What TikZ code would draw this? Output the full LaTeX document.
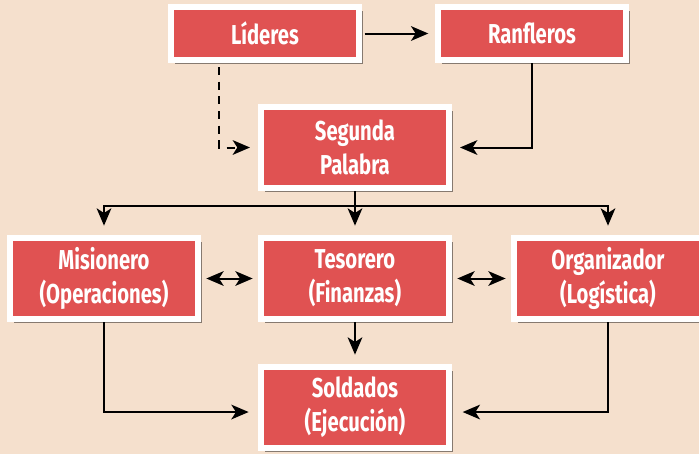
\documentclass[tikz,border=0pt]{standalone}
\usepackage{fontspec}
\setmainfont{Fira Sans}[FakeStretch=0.74]
\usetikzlibrary{arrows.meta,shadows}

\definecolor{bgpeach}{HTML}{F5E0CD}
\definecolor{boxred}{HTML}{E05252}

\begin{document}
\begin{tikzpicture}[x=0.75pt,y=0.75pt,yscale=-1,
  rolebox/.style={fill=boxred,draw=white,line width=4.5pt,text=white,
    font=\fontsize{20.5}{25.5}\selectfont\bfseries,align=center,
    minimum width=141pt,inner sep=0pt,
    drop shadow={shadow xshift=3pt,shadow yshift=-3pt,opacity=0.45,fill=black}},
  single/.style={minimum height=39.75pt},
  double/.style={minimum height=60.75pt},
  tip/.tip={Stealth[length=13pt,width=11pt,inset=3.5pt]},
  link/.style={line width=1.5pt,-tip},
  twoway/.style={line width=1.5pt,tip-tip,shorten <=4pt,shorten >=4pt}]

%background
\fill[bgpeach] (0,0) rectangle (699,454);
\useasboundingbox (0,0) rectangle (699,454);
\clip (0,0) rectangle (699,454);

% Nodes
\node[rolebox,single] (lid) at (265,33.5) {Líderes};
\node[rolebox,single] (ran) at (532,33.5) {Ranfleros};
\node[rolebox,double] (seg) at (355,147.5) {Segunda\\Palabra};
\node[rolebox,double] (mis) at (104,278.5) {Misionero\\(Operaciones)};
\node[rolebox,double] (tes) at (355,278.5) {Tesorero\\(Finanzas)};
\node[rolebox,double] (org) at (608,278.5) {Organizador\\(Logística)};
\node[rolebox,double] (sol) at (355,407.5) {Soldados\\(Ejecución)};

\coordinate (split) at (355,206);

% Connectors
\draw[link,shorten <=2pt,shorten >=5pt] (lid.east) -- (ran.west);
\draw[link,dash pattern=on 6pt off 5pt,shorten <=3pt,shorten >=6pt] ([xshift=38.25pt]lid.south west) |- (seg.west);
\draw[link,shorten >=6pt] (ran.south) |- (seg.east);
\draw[line width=1.5pt] (seg.south) -- (split);
\draw[link,shorten >=7pt] (split) -| (mis.north);
\draw[link,shorten >=7pt] (split) -- (tes.north);
\draw[link,shorten >=7pt] (split) -| (org.north);
\draw[twoway] (mis.east) -- (tes.west);
\draw[twoway] (tes.east) -- (org.west);
\draw[link,shorten >=7pt] (tes.south) -- (sol.north);
\draw[link,shorten >=7pt] (mis.south) |- ([yshift=3.4pt]sol.west);
\draw[link,shorten >=8pt] (org.south) |- ([yshift=3.4pt]sol.east);

\end{tikzpicture}
\end{document}
